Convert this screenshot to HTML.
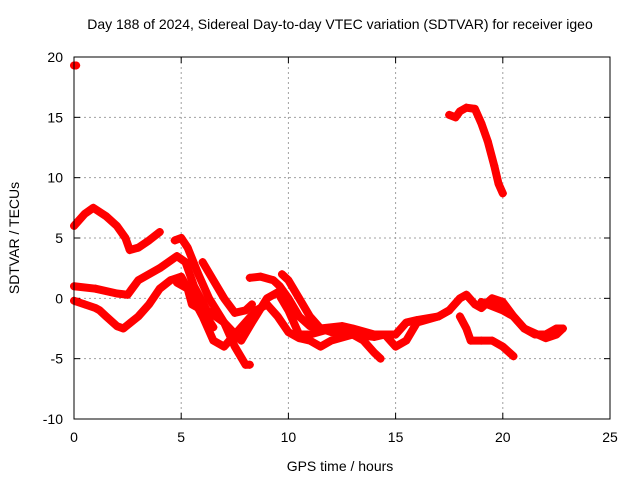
<!DOCTYPE html>
<html><head><meta charset="utf-8"><style>
body{margin:0;background:#fff}
svg text{font-family:"Liberation Sans",sans-serif;font-size:14px;fill:#000}
</style></head><body>
<svg id="c" width="640" height="480">
<rect x="0" y="0" width="640" height="480" fill="#fff"/>
<text x="340" y="29" text-anchor="middle">Day 188 of 2024, Sidereal Day-to-day VTEC variation (SDTVAR) for receiver igeo</text>
<text x="340" y="471" text-anchor="middle">GPS time / hours</text>
<text transform="translate(19,238) rotate(-90)" text-anchor="middle">SDTVAR / TECUs</text>
<g id="grid"></g><g id="series"></g>
<rect x="74" y="57" width="536" height="362" fill="none" stroke="#000" stroke-width="1"/>
</svg>
<script>
const xTicks=[0,5,10,15,20,25];
const yTicks=[-10,-5,0,5,10,15,20];
const s1=[[0,6],[0.5,7],[0.9,7.5],[1.5,6.8],[2,6],[2.4,5],[2.6,4],[3,4.2],[3.5,4.8],[4,5.5]];
const s2=[[0,1],[1,0.8],[2,0.4],[2.5,0.3],[3,1.5],[4,2.5],[4.8,3.5],[5.2,3],[5.6,1],[6.2,-1],[7,-2],[7.8,-3.5],[8.3,-2],[9,0],[9.5,0.5],[10,-1],[10.5,-3],[11,-3],[12,-2.5],[13,-2.8]];
const s3=[[0,-0.2],[0.5,-0.5],[1,-0.8],[1.2,-1],[1.5,-1.5],[2,-2.3],[2.3,-2.5],[3,-1.5],[3.5,-0.5],[4,0.8],[4.5,1.5],[5,1.8],[5.4,0.5],[6,-1.5],[6.5,-3.5],[7,-4],[7.5,-3],[8,-2],[8.5,-1],[9,-0.5]];
const s4=[[4.7,4.8],[5,5],[5.3,4.2],[5.8,2],[6.3,0],[7,-2],[7.5,-4],[8,-5.5],[8.2,-5.5]];
const s5=[[6,3],[6.5,1.5],[7,0],[7.5,-1.2],[8,-1],[8.3,-0.5]];
const s6=[[4.8,1.3],[5.3,0.8],[5.5,-0.5],[6,-1],[6.5,-2.4]];
const s7=[[8.2,1.7],[8.7,1.8],[9.3,1.5],[9.6,1],[10,0],[10.5,-1.5],[11,-2.3],[11.5,-2.5],[12.5,-2.3],[13,-2.5],[14,-3],[15,-3],[15.5,-2],[16,-1.8],[17,-1.5],[17.5,-1],[18,0],[18.3,0.3],[18.7,-0.5],[19,-0.8],[19.5,0],[20,-0.3],[20.5,-1.5],[21,-2.5],[22,-3.3],[22.5,-3],[22.8,-2.5]];
const s8=[[9.7,2],[10,1.5],[10.5,0],[11,-1.5],[11.5,-2.5],[12,-2.8],[13,-3],[13.5,-3.5],[14,-4.5],[14.3,-5]];
const s9=[[9,-0.5],[9.5,-1.5],[10,-2.8],[10.5,-3.3],[11,-3.5],[11.5,-4],[12,-3.5],[13,-3],[14,-3.2],[14.5,-3],[15,-4],[15.5,-3.5],[16,-2],[17,-1.5],[17.5,-1]];
const s10=[[18,-1.5],[18.3,-2.5],[18.5,-3.5],[19,-3.5],[19.5,-3.5],[20,-4],[20.5,-4.8]];
const s11=[[19,-0.3],[20,-1],[20.5,-1.5],[21,-2.5],[21.5,-3],[22,-3],[22.5,-2.5],[22.8,-2.5]];
const s12=[[17.5,15.2],[17.8,15],[18,15.5],[18.3,15.8],[18.7,15.7],[19,14.5],[19.3,13],[19.6,11],[19.8,9.5],[20,8.7]];
const s13=[[0,19.3],[0.1,19.3]];
const allSeries=[s1,s2,s3,s4,s5,s6,s7,s8,s9,s10,s11,s12,s13];
const NS='http://www.w3.org/2000/svg';
const X=t=>74+t*(536/25);
const Y=v=>419-(v+10)*(362/30);
const grid=document.getElementById('grid'),ser=document.getElementById('series'),svg=document.getElementById('c');
function mk(tag,attrs,parent){const e=document.createElementNS(NS,tag);for(const k in attrs)e.setAttribute(k,attrs[k]);parent.appendChild(e);return e;}
xTicks.forEach(t=>{
  if(t>0&&t<25){const g=mk('line',{x1:X(t),x2:X(t),y1:57,y2:419,stroke:'#a0a0a0','stroke-dasharray':'2,3'},grid);
  
  }
  mk('line',{x1:X(t),x2:X(t),y1:419,y2:413,stroke:'#000'},grid);
  mk('line',{x1:X(t),x2:X(t),y1:57,y2:63,stroke:'#000'},grid);
  const l=mk('text',{x:X(t),y:442,'text-anchor':'middle'},svg);l.textContent=t;
  
  
});
yTicks.forEach(v=>{
  if(v>-10&&v<20){const g=mk('line',{x1:74,x2:610,y1:Y(v),y2:Y(v),stroke:'#a0a0a0','stroke-dasharray':'2,3'},grid);
  
  }
  mk('line',{x1:74,x2:80,y1:Y(v),y2:Y(v),stroke:'#000'},grid);
  mk('line',{x1:610,x2:604,y1:Y(v),y2:Y(v),stroke:'#000'},grid);
  const l=mk('text',{x:63,y:Y(v)+5,'text-anchor':'end'},svg);l.textContent=v;
  
  
});
allSeries.forEach((s,i)=>{
  const p=mk('polyline',{points:s.map(d=>X(d[0])+','+Y(d[1])).join(' '),fill:'none',stroke:'#f00','stroke-width':8,'stroke-linejoin':'round','stroke-linecap':'round'},ser);
  
  
  s.forEach(d=>{
    const m=mk('path',{d:`M${X(d[0])-4},${Y(d[1])}h8M${X(d[0])},${Y(d[1])-4}v8`,stroke:'#f00','stroke-width':1.5},ser);
    
    
  });
});
</script>
</body></html>
